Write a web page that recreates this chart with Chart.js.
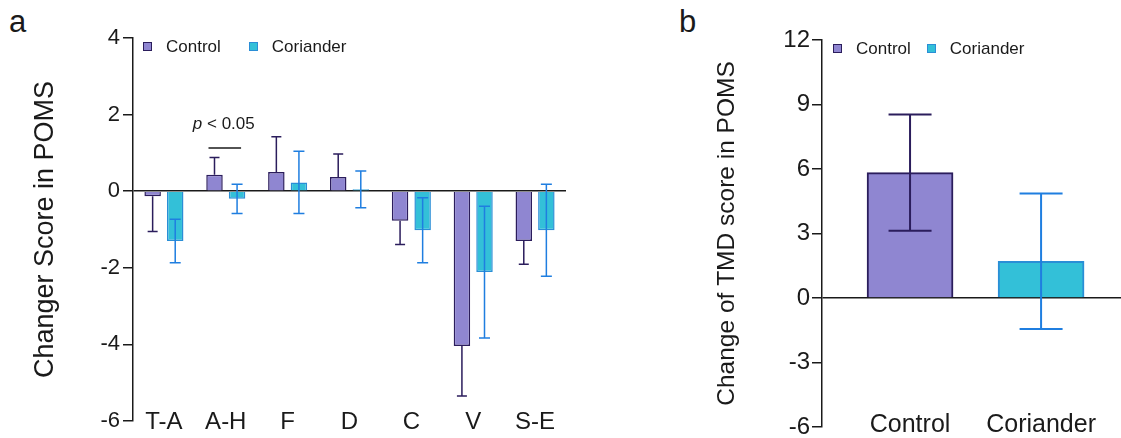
<!DOCTYPE html>
<html>
<head>
<meta charset="utf-8">
<title>POMS change scores: control vs coriander</title>
<script src="https://cdn.jsdelivr.net/npm/chart.js@4.4.1/dist/chart.umd.min.js"></script>
<style>
  body {
    margin: 0;
    width: 1121px;
    height: 438px;
    position: relative;
    overflow: hidden;
    background: #fff;
    font-family: "Liberation Sans", Arial, sans-serif;
    color: #1a1a1a;
  }
  canvas { position: absolute; top: 0; }
  #chartA { left: 0; }
  #chartB { left: 660px; }
  .tag { position: absolute; font-size: 31px; line-height: 31px; }
  .legend { position: absolute; display: flex; align-items: center; font-size: 17px; line-height: 17px; }
  .legend .item { display: flex; align-items: center; }
  .legend .box { width: 9px; height: 9px; box-sizing: border-box; border: 1px solid; margin-right: 14px; }
</style>
</head>
<body>
<div class="tag" style="left:9px; top:6px;">a</div>
<div class="tag" style="left:679px; top:6px;">b</div>
<canvas id="chartA" width="566" height="438"></canvas>
<canvas id="chartB" width="461" height="438"></canvas>
<div class="legend" id="legendA" style="left:143px; top:38px;"></div>
<div class="legend" id="legendB" style="left:833px; top:40px;"></div>

<script>
// ===================== Data: panel a (POMS factors) =====================
const pomsFactors = ["T-A", "A-H", "F", "D", "C", "V", "S-E"];
const controlChange = [-0.13, 0.43, 0.50, 0.37, -0.77, -4.04, -1.30];
const controlErr = [0.92, 0.45, 0.92, 0.60, 0.62, 1.31, 0.61];
const corianderChange = [-1.30, -0.20, 0.23, 0.05, -1.02, -2.11, -1.02];
const corianderErr = [0.57, 0.38, 0.81, 0.48, 0.85, 1.72, 1.20];
const yTicksA = [-6, -4, -2, 0, 2, 4];

// significance mark over A-H
const sigFactor = "A-H";
const sigText = "< 0.05";
const sigLineAt = 1.13;
const sigTextAt = 1.75;

// ===================== Data: panel b (TMD) =====================
const groups = ["Control", "Coriander"];
const tmdChange = [5.83, 1.71];
const tmdErr = [2.70, 3.15];
const yTicksB = [-6, -3, 0, 3, 6, 9, 12];

// ===================== Styles =====================
const FONT = '"Liberation Sans", Arial, sans-serif';
const INK = "#1a1a1a";
const colors = {
  Control: { fill: "#8f86d1", line: "#2b1d5c", err: "#2b1d5c" },
  Coriander: { fill: "#33c0d8", line: "#2a8ed6", err: "#1f7ee0" },
};

Chart.defaults.font.family = FONT;
Chart.defaults.color = INK;

// ===================== Plugins =====================
// error bars read from dataset.errors; oneSided draws only away from zero
const errorBars = {
  id: "errorBars",
  afterDatasetsDraw(chart) {
    const { ctx } = chart;
    const y = chart.scales.y;
    chart.data.datasets.forEach((ds, i) => {
      if (!ds.errors) return;
      const meta = chart.getDatasetMeta(i);
      ctx.save();
      ctx.strokeStyle = ds.errorColor;
      ctx.lineWidth = ds.errorWidth;
      meta.data.forEach((bar, j) => {
        const mean = ds.data[j];
        const err = ds.errors[j];
        if (mean == null || err == null) return;
        const top = y.getPixelForValue(mean + err);
        const bottom = y.getPixelForValue(mean - err);
        const half = ds.capWidth / 2;
        let from = top, to = bottom, caps = [top, bottom];
        if (ds.oneSided) {
          if (mean >= 0) { to = y.getPixelForValue(mean); caps = [top]; }
          else { from = y.getPixelForValue(mean); caps = [bottom]; }
        }
        ctx.beginPath();
        ctx.moveTo(bar.x, from);
        ctx.lineTo(bar.x, to);
        caps.forEach((c) => {
          ctx.moveTo(bar.x - half, c);
          ctx.lineTo(bar.x + half, c);
        });
        ctx.stroke();
      });
      ctx.restore();
    });
  },
};

// "p < 0.05" with a short line between the two A-H bars
const sigMark = {
  id: "sigMark",
  afterDatasetsDraw(chart) {
    const { ctx } = chart;
    const y = chart.scales.y;
    const k = pomsFactors.indexOf(sigFactor);
    const b0 = chart.getDatasetMeta(0).data[k];
    const b1 = chart.getDatasetMeta(1).data[k];
    const lineY = y.getPixelForValue(sigLineAt);
    const textY = y.getPixelForValue(sigTextAt);

    ctx.save();
    ctx.strokeStyle = INK;
    ctx.lineWidth = 1.5;
    ctx.beginPath();
    ctx.moveTo(b0.x - 6, lineY);
    ctx.lineTo(b1.x + 4, lineY);
    ctx.stroke();

    ctx.fillStyle = INK;
    ctx.textBaseline = "middle";
    ctx.textAlign = "left";
    ctx.font = "italic 17px " + FONT;
    const pW = ctx.measureText("p").width;
    ctx.font = "17px " + FONT;
    const restW = ctx.measureText(" " + sigText).width;
    const x0 = (b0.x + b1.x) / 2 - 2 - (pW + restW) / 2;
    ctx.font = "italic 17px " + FONT;
    ctx.fillText("p", x0, textY);
    ctx.font = "17px " + FONT;
    ctx.fillText(" " + sigText, x0 + pW, textY);
    ctx.restore();
  },
};

// ===================== Shared axis helpers =====================
function yAxis(ticks, title, opts) {
  return {
    min: ticks[0],
    max: ticks[ticks.length - 1],
    afterBuildTicks: (s) => { s.ticks = ticks.map((v) => ({ value: v })); },
    border: { display: true, color: INK, width: 1.5 },
    grid: {
      drawOnChartArea: true,
      // only the zero line is drawn across the plot
      color: (c) => (c.tick && c.tick.value === 0 ? INK : "rgba(0,0,0,0)"),
      tickColor: INK,
      tickLength: 10,
      lineWidth: 1.5,
    },
    ticks: { font: { size: opts.tickSize, lineHeight: opts.tickLH }, color: INK, padding: opts.tickPad },
    title: {
      display: true,
      text: title,
      color: INK,
      font: { size: opts.titleSize },
      padding: { top: opts.titlePad, bottom: 0 },
    },
    afterFit: (s) => { s.width = opts.width; },
  };
}

// category labels sit level with the bottom tick, so they are mirrored
// (mirrored labels are not clipped to the thin axis box)
function xAxis(fontSize, pad, height) {
  return {
    offset: true,
    grid: { display: false, drawTicks: false },
    border: { display: false },
    ticks: { font: { size: fontSize }, color: INK, mirror: true, padding: pad, maxRotation: 0, autoSkip: false },
    afterFit: (s) => { s.height = height; },
  };
}

// ===================== Panel a =====================
const chartA = new Chart(document.getElementById("chartA"), {
  type: "bar",
  data: {
    labels: pomsFactors,
    datasets: [
      {
        label: "Control",
        data: controlChange,
        backgroundColor: colors.Control.fill,
        borderColor: colors.Control.line,
        borderWidth: 1.5,
        errors: controlErr,
        oneSided: true,
        errorColor: colors.Control.err,
        errorWidth: 1.5,
        capWidth: 10,
      },
      {
        label: "Coriander",
        data: corianderChange,
        backgroundColor: colors.Coriander.fill,
        borderColor: colors.Coriander.line,
        borderWidth: 1.5,
        errors: corianderErr,
        oneSided: false,
        errorColor: colors.Coriander.err,
        errorWidth: 1.5,
        capWidth: 11,
      },
    ],
  },
  options: {
    responsive: false,
    animation: false,
    events: [],
    categoryPercentage: 0.73,
    barPercentage: 0.73,
    layout: { padding: { top: 38, right: 0, bottom: 0, left: 0 } },
    plugins: { legend: { display: false }, tooltip: { enabled: false } },
    scales: {
      x: xAxis(24, -16, 17),
      y: yAxis(yTicksA, "Changer Score in POMS", {
        tickSize: 22, tickLH: 1, tickPad: 3, titleSize: 27, titlePad: 29, width: 133,
      }),
    },
  },
  plugins: [errorBars, sigMark],
});

// ===================== Panel b =====================
const xB = xAxis(25, -13, 11);
// leave a gap between the y axis and the first bar, like the original
xB.afterBuildTicks = (s) => { s._startValue = -0.672; s._valueRange = 2.282; };

const chartB = new Chart(document.getElementById("chartB"), {
  type: "bar",
  data: {
    labels: groups,
    datasets: groups.map((g, i) => ({
      label: g,
      data: groups.map((_, j) => (j === i ? tmdChange[i] : null)),
      backgroundColor: colors[g].fill,
      borderColor: colors[g].line,
      borderWidth: 2,
      errors: groups.map((_, j) => (j === i ? tmdErr[i] : null)),
      oneSided: false,
      errorColor: colors[g].err,
      errorWidth: 2,
      capWidth: 43,
    })),
  },
  options: {
    responsive: false,
    animation: false,
    events: [],
    skipNull: true,
    barThickness: 86,
    layout: { padding: { top: 40, right: 0, bottom: 0, left: 0 } },
    plugins: { legend: { display: false }, tooltip: { enabled: false } },
    scales: {
      x: xB,
      y: yAxis(yTicksB, "Change of TMD score in POMS", {
        tickSize: 24, tickLH: 0.7, tickPad: 2, titleSize: 24.5, titlePad: 53, width: 162,
      }),
    },
  },
  plugins: [errorBars],
});

// ===================== HTML legends =====================
function buildLegend(id, chart, itemGap) {
  const el = document.getElementById(id);
  chart.data.datasets.forEach((ds, i) => {
    const item = document.createElement("div");
    item.className = "item";
    if (i < chart.data.datasets.length - 1) item.style.marginRight = itemGap + "px";
    const box = document.createElement("span");
    box.className = "box";
    box.style.background = ds.backgroundColor;
    box.style.borderColor = ds.borderColor;
    const text = document.createElement("span");
    text.textContent = ds.label;
    item.appendChild(box);
    item.appendChild(text);
    el.appendChild(item);
  });
}
buildLegend("legendA", chartA, 28);
buildLegend("legendB", chartB, 16);
</script>
</body>
</html>
